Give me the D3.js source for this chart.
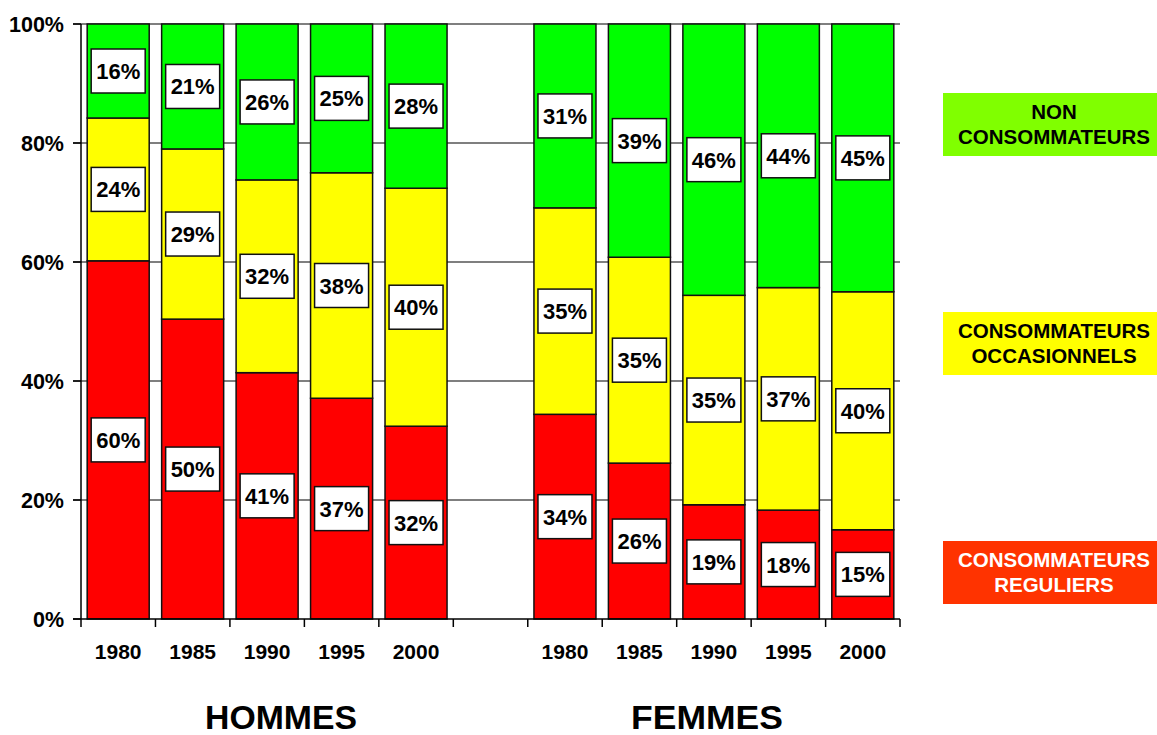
<!DOCTYPE html>
<html><head><meta charset="utf-8">
<script src="https://cdn.jsdelivr.net/npm/d3@7"></script>
<style>body{margin:0;background:#fff;} text{font-family:Arial,"Liberation Sans",sans-serif;font-weight:bold;}</style>
</head><body><svg id="c" width="1157" height="735"></svg>
<script>
const years = ["1980","1985","1990","1995","2000"];
const groups = ["HOMMES","FEMMES"];
const hommesReguliers    = [60.2, 50.4, 41.4, 37.1, 32.4];
const hommesOccasionnels = [24.0, 28.6, 32.4, 37.9, 40.0];
const hommesNon          = [15.8, 21.0, 26.2, 25.0, 27.6];
const femmesReguliers    = [34.4, 26.2, 19.2, 18.3, 15.0];
const femmesOccasionnels = [34.7, 34.6, 35.2, 37.4, 40.0];
const femmesNon          = [30.9, 39.2, 45.6, 44.3, 45.0];
const seriesKeys = ["reg","occ","non"];
const seriesColors = {reg:"#ff0000", occ:"#ffff00", non:"#00ff00"};
const legendItems = [
  {key:"non", lines:["NON","CONSOMMATEURS"], fill:"#80ff00", color:"#000"},
  {key:"occ", lines:["CONSOMMATEURS","OCCASIONNELS"], fill:"#ffff00", color:"#000"},
  {key:"reg", lines:["CONSOMMATEURS","REGULIERS"], fill:"#ff3300", color:"#fff"}
];
const yTicks = [0,20,40,60,80,100];

const rows = [];
years.forEach((y,i)=>rows.push({id:"H"+y, year:y, reg:hommesReguliers[i], occ:hommesOccasionnels[i], non:hommesNon[i]}));
rows.push({id:"gap", year:"", reg:0, occ:0, non:0});
years.forEach((y,i)=>rows.push({id:"F"+y, year:y, reg:femmesReguliers[i], occ:femmesOccasionnels[i], non:femmesNon[i]}));

const svg = d3.select("#c");
const x = d3.scaleBand().domain(rows.map(r=>r.id)).range([81,900]).paddingInner(0.167).paddingOuter(0.083);
const step = x.step();
const y = d3.scaleLinear().domain([0,100]).range([619,24]);

// gridlines
svg.append("g").selectAll("line").data(yTicks.filter(t=>t>0)).join("line")
  .attr("x1",73).attr("x2",900).attr("y1",d=>y(d)).attr("y2",d=>y(d))
  .attr("stroke","#000").attr("stroke-width",1.2);

const stack = d3.stack().keys(seriesKeys)(rows);
const gBars = svg.append("g");
stack.forEach(s=>{
  gBars.selectAll(null).data(s.filter(d=>d.data.id!=="gap")).join("rect")
    .attr("x",d=>x(d.data.id)).attr("width",x.bandwidth())
    .attr("y",d=>y(d[1])).attr("height",d=>y(d[0])-y(d[1]))
    .attr("fill",seriesColors[s.key]).attr("stroke","#111").attr("stroke-width",1.5);
});
// value labels
const bw=54, bh=44;
stack.forEach(s=>{
  const g = svg.append("g").selectAll("g").data(s.filter(d=>d.data.id!=="gap")).join("g")
    .attr("transform",d=>`translate(${x(d.data.id)+x.bandwidth()/2},${(y(d[0])+y(d[1]))/2})`);
  g.append("rect").attr("x",-bw/2).attr("y",-bh/2).attr("width",bw).attr("height",bh)
    .attr("fill","#fff").attr("stroke","#111").attr("stroke-width",1.5);
  g.append("text").attr("text-anchor","middle").attr("y",8).attr("font-size",22)
    .text(d=>Math.round(d[1]-d[0])+"%");
});

// y axis
svg.append("line").attr("x1",81).attr("x2",81).attr("y1",y(100)).attr("y2",y(0)).attr("stroke","#000").attr("stroke-width",1.5);
svg.append("line").attr("x1",73).attr("x2",900).attr("y1",y(0)).attr("y2",y(0)).attr("stroke","#000").attr("stroke-width",1.5);
svg.append("g").selectAll("line").data(yTicks).join("line")
  .attr("x1",73).attr("x2",81).attr("y1",d=>y(d)).attr("y2",d=>y(d)).attr("stroke","#000").attr("stroke-width",1.5);
svg.append("g").selectAll("text").data(yTicks).join("text")
  .attr("x",64).attr("y",d=>y(d)+7.5).attr("text-anchor","end").attr("font-size",21.5).text(d=>d+"%");

// x ticks at band boundaries
const bounds = rows.map((r,i)=>81+i*step).concat([900]);
svg.append("g").selectAll("line").data(bounds).join("line")
  .attr("x1",d=>d).attr("x2",d=>d).attr("y1",619).attr("y2",627).attr("stroke","#000").attr("stroke-width",1.5);
svg.append("g").selectAll("text").data(rows.filter(r=>r.year)).join("text")
  .attr("x",d=>x(d.id)+x.bandwidth()/2).attr("y",659).attr("text-anchor","middle").attr("font-size",21).text(d=>d.year);

// group labels
const groupCenters = [281, 707];
svg.append("g").selectAll("text").data(groups).join("text")
  .attr("x",(d,i)=>groupCenters[i]).attr("y",729).attr("text-anchor","middle").attr("font-size",34)
  .attr("textLength",152).attr("lengthAdjust","spacingAndGlyphs").text(d=>d);

// legend
const legendY = {non:93, occ:312, reg:541};
const lg = svg.append("g").selectAll("g").data(legendItems).join("g")
  .attr("transform",d=>`translate(943,${legendY[d.key]})`);
lg.append("rect").attr("width",214).attr("height",63).attr("fill",d=>d.fill);
lg.each(function(d){
  const t = d3.select(this).append("text").attr("text-anchor","middle").attr("font-size",20.5).attr("fill",d.color);
  d.lines.forEach((l,i)=>t.append("tspan").attr("x",111).attr("y",26+i*25).text(l));
});
</script></body></html>
